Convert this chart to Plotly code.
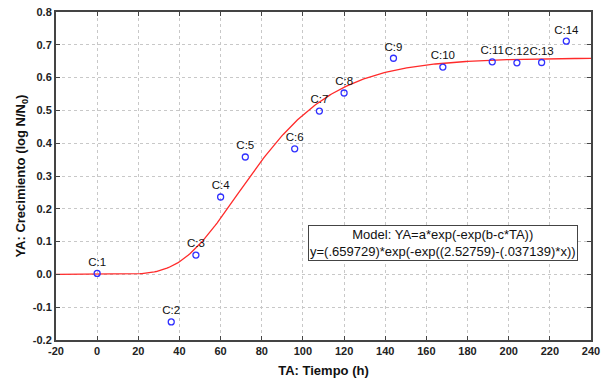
import numpy as np
import plotly.graph_objects as go

# Observed data
labels = ["C:1", "C:2", "C:3", "C:4", "C:5", "C:6", "C:7", "C:8", "C:9", "C:10", "C:11", "C:12", "C:13", "C:14"]
ta = [0, 36, 48, 60, 72, 96, 108, 120, 144, 168, 192, 204, 216, 228]
ya = [0.003, -0.145, 0.059, 0.236, 0.358, 0.383, 0.498, 0.553, 0.659, 0.632, 0.648, 0.645, 0.646, 0.711]

# Fitted Gompertz model parameters (shown in the chart)
a_par = 0.659729
b_par = 2.52759
c_par = 0.037139

x_ticks = list(range(-20, 241, 20))
x_ticklabels = [str(v) for v in x_ticks]
y_ticks = [round(-0.2 + 0.1 * i, 1) for i in range(11)]
y_ticklabels = [f"{v:.1f}" for v in y_ticks]

xc = np.linspace(-20, 240, 300)
yc = a_par * np.exp(-np.exp(b_par - c_par * xc))

font = "Liberation Sans, Arial, sans-serif"

fig = go.Figure()
fig.add_trace(go.Scatter(x=xc, y=yc, mode="lines",
                         line=dict(color="#ff2a2a", width=1.3), hoverinfo="skip"))
fig.add_trace(go.Scatter(x=ta, y=ya, mode="markers+text", text=labels,
                         textposition="top center",
                         textfont=dict(family=font, size=11.5, color="#111111"),
                         marker=dict(symbol="circle-open", size=6, color="#3030ff",
                                     line=dict(width=1.3))))

fig.update_layout(
    width=610, height=385,
    margin=dict(l=56, r=19, t=12, b=45),
    paper_bgcolor="white", plot_bgcolor="white",
    showlegend=False,
    font=dict(family=font, size=11, color="#111111"),
    xaxis=dict(range=[-20, 240], tickvals=x_ticks,
               ticktext=[f"<b>{t}</b>" for t in x_ticklabels],
               ticks="inside", ticklen=4,
               tickcolor="#444", showgrid=True, gridcolor="#c8c8c8", griddash="dot",
               gridwidth=1, zeroline=False, showline=True, linecolor="#444", linewidth=2,
               mirror="ticks", automargin=False,
               tickfont=dict(family=font, size=11, color="#222"),
               title=dict(text="<b>TA: Tiempo (h)</b>", font=dict(family=font, size=13, color="#111"),
                          standoff=10)),
    yaxis=dict(range=[-0.2, 0.8], tickvals=y_ticks,
               ticktext=[f"<b>{t}</b>" for t in y_ticklabels],
               ticks="inside",
               ticklen=4, tickcolor="#444", showgrid=True, gridcolor="#c8c8c8", griddash="dot",
               gridwidth=1, zeroline=False, showline=True, linecolor="#444", linewidth=2,
               mirror="ticks", automargin=False,
               tickfont=dict(family=font, size=11, color="#222"),
               title=dict(text="<b>YA: Crecimiento (log N/N<sub>0</sub>)</b>",
                          font=dict(family=font, size=13, color="#111"), standoff=4)),
)

fig.add_annotation(xref="paper", yref="paper", x=0.723, y=0.296,
                   xanchor="center", yanchor="middle", showarrow=False,
                   text="Model: YA=a*exp(-exp(b-c*TA))<br>"
                        "y=(.659729)*exp(-exp((2.52759)-(.037139)*x))",
                   align="center", bgcolor="white", bordercolor="#444", borderwidth=1,
                   borderpad=1, font=dict(family=font, size=13, color="#111"))

fig.write_html("out.html", config={"displayModeBar": False},
               post_script="document.body.style.margin='0';")
